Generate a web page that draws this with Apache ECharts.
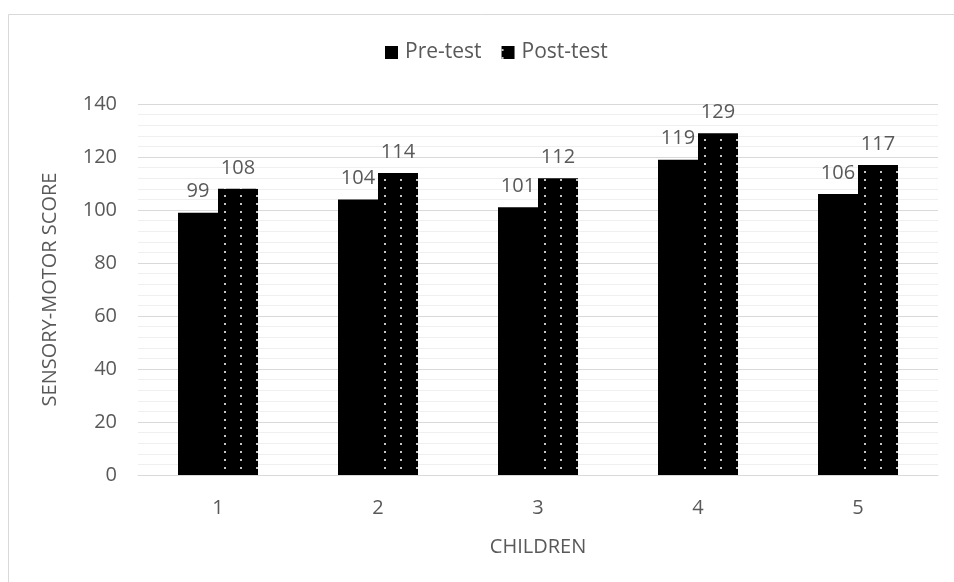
<!DOCTYPE html>
<html>
<head>
<meta charset="utf-8">
<script src="https://cdn.jsdelivr.net/npm/echarts@6/dist/echarts.min.js"></script>
<style>
  html, body { margin: 0; padding: 0; background: #fff; }
  #chart { width: 954px; height: 582px; }
</style>
</head>
<body>
<div id="chart"></div>
<script>
const categories = ['1', '2', '3', '4', '5'];
const preTest = [99, 104, 101, 119, 106];
const postTest = [108, 114, 112, 129, 117];
const seriesNames = ['Pre-test', 'Post-test'];

// dotted fill for the post-test bars
function dotPattern() {
  const c = document.createElement('canvas');
  c.width = 16;
  c.height = 8;
  const ctx = c.getContext('2d');
  ctx.fillStyle = '#000';
  ctx.fillRect(0, 0, 16, 8);
  ctx.fillStyle = '#c4c4c4';
  ctx.fillRect(0, 3, 2, 2);
  return c;
}

const font = '"Open Sans", "Noto Sans", sans-serif';
const txt = '#595959';

const chart = echarts.init(document.getElementById('chart'));
chart.setOption({
  animation: false,
  backgroundColor: '#fff',
  textStyle: { fontFamily: font },
  graphic: [{
    type: 'rect',
    shape: { x: 8.5, y: 14.5, width: 1000, height: 1000 },
    style: { fill: 'none', stroke: '#d9d9d9', lineWidth: 1 },
    silent: true
  }],
  legend: {
    top: 37,
    left: 380,
    itemWidth: 13,
    itemHeight: 13,
    itemGap: 20,
    icon: 'rect',
    textStyle: { color: txt, fontSize: 21, fontFamily: font, padding: [0, 0, 0, 2] },
    data: seriesNames
  },
  grid: { left: 138, right: 16, top: 104, bottom: 107 },
  xAxis: {
    type: 'category',
    data: categories,
    name: 'CHILDREN',
    nameLocation: 'middle',
    nameGap: 62,
    nameTextStyle: { color: txt, fontSize: 20, fontFamily: font },
    axisLine: { lineStyle: { color: '#d9d9d9', width: 1 } },
    axisTick: { show: false },
    axisLabel: { color: txt, fontSize: 20, margin: 23, fontFamily: font }
  },
  yAxis: {
    type: 'value',
    min: 0,
    max: 140,
    interval: 20,
    name: 'SENSORY-MOTOR SCORE',
    nameLocation: 'middle',
    nameGap: 78,
    nameTextStyle: { color: txt, fontSize: 20, fontFamily: font },
    axisLine: { show: false },
    axisTick: { show: false },
    axisLabel: { color: txt, fontSize: 20, margin: 21, fontFamily: font },
    splitLine: { lineStyle: { color: '#d9d9d9', width: 1 } },
    minorTick: { show: false, splitNumber: 5 },
    minorSplitLine: { show: true, lineStyle: { color: '#efefef', width: 1 } }
  },
  series: [
    {
      name: seriesNames[0],
      type: 'bar',
      data: preTest,
      barWidth: 40,
      barGap: '0%',
      itemStyle: { color: '#000' },
      label: {
        show: true,
        position: 'top',
        distance: 11,
        color: txt,
        fontSize: 20,
        fontFamily: font
      }
    },
    {
      name: seriesNames[1],
      type: 'bar',
      data: postTest,
      barWidth: 40,
      barGap: '0%',
      itemStyle: { color: { image: dotPattern(), repeat: 'repeat' } },
      label: {
        show: true,
        position: 'top',
        distance: 11,
        color: txt,
        fontSize: 20,
        fontFamily: font
      }
    }
  ]
});
</script>
</body>
</html>
